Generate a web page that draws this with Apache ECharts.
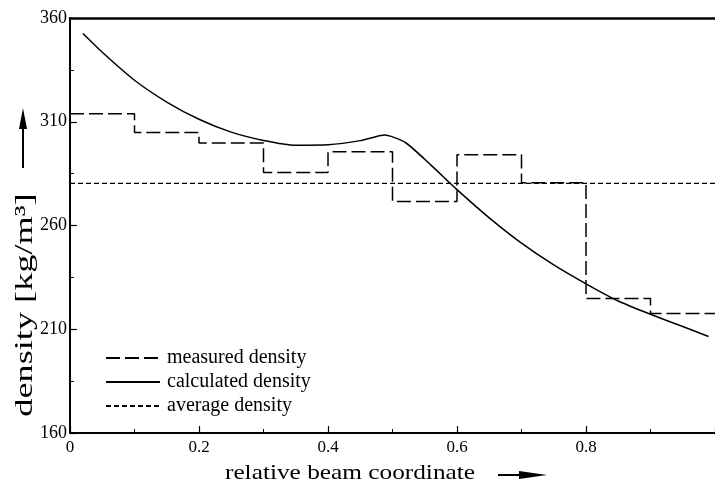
<!DOCTYPE html>
<html>
<head>
<meta charset="utf-8">
<title>density</title>
<script src="https://cdn.jsdelivr.net/npm/echarts@6/dist/echarts.min.js"></script>
<style>
  html, body { margin: 0; padding: 0; background: #fff; }
  #chart { width: 715px; height: 487px; }
</style>
</head>
<body>
<div id="chart"></div>
<script>
// measured density: one level per segment of 0.1 (last value repeated to close the step)
const measX = [0, 0.1, 0.2, 0.3, 0.4, 0.5, 0.6, 0.7, 0.8, 0.9, 1.0]
const measY = [313.8, 304.8, 299.7, 285.5, 295.5, 271.6, 294.1, 280.6, 224.8, 217.6, 217.6]

// calculated density
const calcX = [0.02, 0.05, 0.1, 0.15, 0.2, 0.25, 0.3, 0.35, 0.4, 0.45, 0.488, 0.52, 0.56, 0.6, 0.65, 0.7, 0.75, 0.8, 0.85, 0.9, 0.95, 0.99]
const calcY = [352.5, 343.5, 330, 319.5, 311.2, 305, 301, 298.7, 298.9, 300.9, 303.6, 300, 289, 277.3, 263.7, 251.5, 241, 231.9, 223.6, 217.2, 211.3, 206.5]

// average density
const avgX = [0, 1.0]
const avgY = [280.3, 280.3]

const seriesNames = ['measured density', 'calculated density', 'average density']
const xRange = [0, 1.0, 0.2]
const yRange = [160, 360, 50]

const pairs = (xs, ys) => xs.map((x, i) => [x, ys[i]])

const font = 'Liberation Serif'
const ink = '#000'

const myChart = echarts.init(document.getElementById('chart'))

const option = {
  animation: false,
  backgroundColor: '#fff',
  grid: {
    left: 70,
    right: 0,
    top: 18,
    bottom: 54
  },
  legend: {
    orient: 'vertical',
    left: 100,
    top: 343,
    itemWidth: 54,
    itemHeight: 10,
    itemGap: 4,
    selectedMode: false,
    data: seriesNames,
    itemStyle: { color: 'transparent', borderWidth: 0, opacity: 0 },
    textStyle: {
      color: ink,
      fontFamily: font,
      fontSize: 20,
      padding: [0, 0, 0, 2]
    }
  },
  xAxis: [
    {
      type: 'value',
      min: xRange[0],
      max: xRange[1],
      interval: xRange[2],
      axisLine: { lineStyle: { color: ink, width: 2 } },
      axisTick: { inside: true, length: 7, lineStyle: { color: ink, width: 1.2 } },
      minorTick: { show: true, splitNumber: 2, length: 4, lineStyle: { color: ink, width: 1 } },
      splitLine: { show: false },
      axisLabel: {
        color: ink,
        fontFamily: font,
        fontSize: 17,
        margin: 6,
        showMaxLabel: false,
        formatter: v => String(+v.toFixed(1))
      }
    },
    {
      // top frame line only
      type: 'value',
      position: 'top',
      min: xRange[0],
      max: xRange[1],
      axisLine: { show: true, lineStyle: { color: ink, width: 2.5 } },
      axisTick: { show: false },
      axisLabel: { show: false },
      splitLine: { show: false }
    }
  ],
  yAxis: {
    type: 'value',
    min: yRange[0],
    max: yRange[1],
    interval: yRange[2],
    axisLine: { show: true, lineStyle: { color: ink, width: 2 } },
    axisTick: { show: true, inside: true, length: 7, lineStyle: { color: ink, width: 1.2 } },
    minorTick: { show: true, splitNumber: 2, length: 4, lineStyle: { color: ink, width: 1 } },
    splitLine: { show: false },
    axisLabel: {
      color: ink,
      fontFamily: font,
      fontSize: 18,
      margin: 3
    }
  },
  series: [
    {
      name: seriesNames[0],
      type: 'line',
      step: 'end',
      symbol: 'none',
      data: pairs(measX, measY),
      lineStyle: { color: ink, width: 1.5, type: [14, 5] },
      itemStyle: { color: ink }
    },
    {
      name: seriesNames[1],
      type: 'line',
      symbol: 'none',
      smooth: 0.2,
      data: pairs(calcX, calcY),
      lineStyle: { color: ink, width: 1.5, type: 'solid' },
      itemStyle: { color: ink }
    },
    {
      name: seriesNames[2],
      type: 'line',
      symbol: 'none',
      data: pairs(avgX, avgY),
      lineStyle: { color: ink, width: 1.3, type: [5, 3] },
      itemStyle: { color: ink }
    }
  ],
  graphic: [
    // x axis title and arrow
    {
      type: 'text',
      x: 350,
      y: 473,
      scaleX: 1.15,
      style: {
        text: 'relative beam coordinate',
        fontFamily: font,
        fontSize: 22,
        fill: ink,
        textAlign: 'center',
        textVerticalAlign: 'middle'
      }
    },
    {
      type: 'line',
      shape: { x1: 498, y1: 475, x2: 525, y2: 475 },
      style: { stroke: ink, lineWidth: 2 }
    },
    {
      type: 'polygon',
      shape: { points: [[547, 475], [519, 471], [519, 479]] },
      style: { fill: ink }
    },
    // y axis title and arrow
    {
      type: 'text',
      x: 25,
      y: 305,
      rotation: Math.PI / 2,
      scaleX: 1.45,
      style: {
        text: 'density [kg/m³]',
        fontFamily: font,
        fontSize: 25,
        fill: ink,
        textAlign: 'center',
        textVerticalAlign: 'middle'
      }
    },
    {
      type: 'line',
      shape: { x1: 23, y1: 168, x2: 23, y2: 126 },
      style: { stroke: ink, lineWidth: 2 }
    },
    {
      type: 'polygon',
      shape: { points: [[23, 108], [19, 129], [27, 129]] },
      style: { fill: ink }
    }
  ]
}

myChart.setOption(option)
</script>
</body>
</html>
